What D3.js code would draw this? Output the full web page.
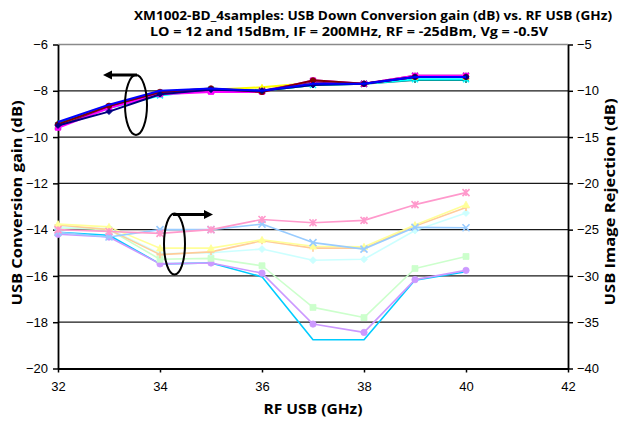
<!DOCTYPE html>
<html><head><meta charset="utf-8">
<script src="https://cdn.jsdelivr.net/npm/d3@7"></script>
<style>body{margin:0;background:#fff}svg{display:block}</style>
</head><body><svg id="c" width="621" height="421"></svg>
<script>
const freqs = [32,33,34,35,36,37,38,39,40];
const xTicks = [32,34,36,38,40,42];
const leftTicks = [-20,-18,-16,-14,-12,-10,-8,-6];
const rightTicks = [-40,-35,-30,-25,-20,-15,-10,-5];
const titleLines = ["XM1002-BD_4samples: USB Down Conversion gain (dB) vs. RF USB (GHz)",
                    "LO = 12 and 15dBm, IF = 200MHz, RF = -25dBm, Vg = -0.5V"];

// Conversion gain (left axis)
const gainNavy    = [-9.5,-8.9,-8.15,-7.95,-8.0,-7.75,-7.7,-7.4,-7.4];
const gainMagenta = [-9.6,-8.75,-8.15,-8.05,-8.05,-7.55,-7.7,-7.35,-7.35];
const gainYellow  = [-9.5,-8.7,-8.1,-7.95,-7.85,-7.65,-7.7,-7.4,-7.4];
const gainCyan    = [-9.5,-8.75,-8.2,-7.95,-8.0,-7.75,-7.7,-7.5,-7.5];
const gainPurple  = [-9.55,-8.7,-8.1,-8.0,-8.0,-7.6,-7.7,-7.35,-7.35];
const gainDarkRed = [-9.45,-8.65,-8.05,-7.9,-8.05,-7.55,-7.7,-7.4,-7.4];
const gainTeal    = [-9.4,-8.7,-8.1,-7.95,-8.0,-7.75,-7.7,-7.53,-7.53];
const gainBlue    = [-9.35,-8.6,-8.0,-7.9,-8.0,-7.7,-7.7,-7.4,-7.4];

// Image rejection (right axis)
const rejPink      = [-25.0,-25.2,-25.4,-25.0,-23.9,-24.25,-24.0,-22.3,-21.0];
const rejLightBlue = [-25.3,-25.8,-25.0,-25.0,-24.4,-26.4,-27.1,-24.75,-24.8];
const rejYellow    = [-24.4,-24.7,-27.0,-27.0,-26.1,-26.8,-26.85,-24.5,-22.3];
const rejOrange    = [-24.5,-25.0,-27.7,-27.4,-26.2,-27.0,-27.0,-24.6,-22.6];
const rejLightCyan = [-24.7,-24.9,-27.6,-27.5,-27.1,-28.3,-28.2,-25.1,-23.2];
const rejGreen     = [-24.8,-25.0,-28.2,-28.1,-28.9,-33.4,-34.5,-29.2,-27.9];
const rejLavender  = [-25.5,-25.8,-28.7,-28.6,-29.7,-35.2,-36.1,-30.4,-29.4];
const rejSkyBlue   = [-25.3,-25.6,-28.7,-28.6,-30.1,-36.9,-36.9,-30.45,-29.55];

const gainSeries = [
  {v:gainTeal,c:"#008080",m:"plus"},
  {v:gainCyan,c:"#00FFFF",m:"x"},
  {v:gainYellow,c:"#FFFF00",m:"triangle"},
  {v:gainPurple,c:"#800080",m:"star"},
  {v:gainMagenta,c:"#FF00FF",m:"square"},
  {v:gainDarkRed,c:"#800000",m:"circle"},
  {v:gainNavy,c:"#000080",m:"diamond"},
  {v:gainBlue,c:"#0000FF",m:"none"}
];
const rejSeries = [
  {v:rejSkyBlue,c:"#00CCFF",m:"none"},
  {v:rejLavender,c:"#CC99FF",m:"circle"},
  {v:rejGreen,c:"#CCFFCC",m:"square"},
  {v:rejLightCyan,c:"#CCFFFF",m:"diamond"},
  {v:rejOrange,c:"#FFCC99",m:"plus"},
  {v:rejYellow,c:"#FFFF99",m:"triangle"},
  {v:rejLightBlue,c:"#99CCFF",m:"x"},
  {v:rejPink,c:"#FF99CC",m:"star"}
];

const L=58, R=568, T=44.5, B=368.5;
const svg = d3.select("#c");
const x = d3.scaleLinear().domain([32,42]).range([L,R]);
const yL = d3.scaleLinear().domain([-20,-6]).range([B,T]);
const yR = d3.scaleLinear().domain([-40,-5]).range([B,T]);

// gridlines
svg.append("g").selectAll("line").data(leftTicks.filter(d=>d>-20 && d<-6)).join("line")
  .attr("x1",L).attr("x2",R).attr("y1",d=>yL(d)).attr("y2",d=>yL(d))
  .attr("stroke","#1a1a1a").attr("stroke-width",1.3);
svg.append("line").attr("x1",L).attr("x2",R).attr("y1",yL(-6)).attr("y2",yL(-6))
  .attr("stroke","#8a8a8a").attr("stroke-width",1.3);

const tickFont = "'Liberation Sans', Arial, sans-serif";
function styleAxis(g){
  g.selectAll("text").attr("font-family",tickFont).attr("font-size",13).attr("fill","#000");
  g.selectAll("path,line").attr("stroke","#000").attr("stroke-width",1.5);
}
svg.append("g").attr("transform",`translate(${L},0)`)
  .call(d3.axisLeft(yL).tickValues(leftTicks).tickSize(5).tickPadding(5).tickSizeOuter(0).tickFormat(d3.format("d")))
  .call(styleAxis);
svg.append("g").attr("transform",`translate(${R},0)`)
  .call(d3.axisRight(yR).tickValues(rightTicks).tickSize(5).tickPadding(4).tickSizeOuter(0).tickFormat(d3.format("d")))
  .call(styleAxis);
svg.append("g").attr("transform",`translate(0,${B})`)
  .call(d3.axisBottom(x).tickValues(xTicks).tickSize(4).tickPadding(9).tickSizeOuter(0).tickFormat(d3.format("d")))
  .call(styleAxis);
svg.selectAll(".domain").attr("stroke","#000").attr("stroke-width",1.8);

function markerPath(type,s){
  const h=s/2;
  switch(type){
    case "diamond": return `M0,${-h}L${h},0L0,${h}L${-h},0Z`;
    case "square": return `M${-h*0.85},${-h*0.85}h${s*0.85}v${s*0.85}h${-s*0.85}Z`;
    case "triangle": return `M0,${-h}L${h},${h*0.8}L${-h},${h*0.8}Z`;
    case "circle": return d3.symbol(d3.symbolCircle, s*s*0.65)();
    case "x": return `M${-h},${-h}L${h},${h}M${-h},${h}L${h},${-h}`;
    case "star": return `M${-h},${-h}L${h},${h}M${-h},${h}L${h},${-h}M0,${-h}L0,${h}`;
    case "plus": return `M${-h},0L${h},0M0,${-h}L0,${h}`;
  }
  return "";
}
const filled = t => ["diamond","square","triangle","circle"].includes(t);

function drawGroup(series, y, lw, ms){
  const line = d3.line().x((d,i)=>x(freqs[i])).y(d=>y(d));
  const g = svg.append("g");
  series.forEach(s=>{
    g.append("path").attr("d",line(s.v)).attr("fill","none").attr("stroke",s.c)
      .attr("stroke-width",lw).attr("stroke-linejoin","round");
    if(s.m!=="none"){
      g.selectAll(null).data(s.v).join("path")
        .attr("transform",(d,i)=>`translate(${x(freqs[i])},${y(d)})`)
        .attr("d",markerPath(s.m,ms))
        .attr("fill",filled(s.m)?s.c:"none")
        .attr("stroke",s.c).attr("stroke-width",filled(s.m)?0.8:1.6);
    }
  });
}
drawGroup(rejSeries, yR, 1.6, 7);
drawGroup(gainSeries, yL, 2, 6);

// annotation ellipses + arrows
function arrow(x1,y1,x2){
  const dir = Math.sign(x2-x1);
  svg.append("line").attr("x1",x1).attr("y1",y1).attr("x2",x2-dir*6).attr("y2",y1)
    .attr("stroke","#000").attr("stroke-width",3);
  svg.append("path").attr("d",`M${x2},${y1}L${x2-dir*9},${y1-4.5}L${x2-dir*9},${y1+4.5}Z`).attr("fill","#000");
}
svg.append("ellipse").attr("cx",136).attr("cy",105).attr("rx",11).attr("ry",30)
  .attr("fill","none").attr("stroke","#000").attr("stroke-width",2);
arrow(137,75,103);
svg.append("ellipse").attr("cx",174.5).attr("cy",244).attr("rx",10.5).attr("ry",30.5)
  .attr("fill","none").attr("stroke","#000").attr("stroke-width",2);
arrow(173,214.5,213);

// titles
const titleFont = "'Open Sans', 'DejaVu Sans', sans-serif";
svg.append("text").attr("x",373).attr("y",19.5).attr("text-anchor","middle")
  .attr("font-family",titleFont).attr("font-weight","bold").attr("font-size",13)
  .attr("textLength",478).attr("lengthAdjust","spacingAndGlyphs").text(titleLines[0]);
svg.append("text").attr("x",349).attr("y",36).attr("text-anchor","middle")
  .attr("font-family",titleFont).attr("font-weight","bold").attr("font-size",13)
  .attr("textLength",398).attr("lengthAdjust","spacingAndGlyphs").text(titleLines[1]);
svg.append("text").attr("x",313).attr("y",414).attr("text-anchor","middle")
  .attr("font-family",titleFont).attr("font-weight","bold").attr("font-size",14)
  .attr("textLength",99).attr("lengthAdjust","spacingAndGlyphs").text("RF USB (GHz)");
svg.append("text").attr("transform","translate(22,203) rotate(-90)").attr("text-anchor","middle")
  .attr("font-family",titleFont).attr("font-weight","bold").attr("font-size",14)
  .attr("textLength",205).attr("lengthAdjust","spacingAndGlyphs").text("USB Conversion gain (dB)");
svg.append("text").attr("transform","translate(615,202) rotate(-90)").attr("text-anchor","middle")
  .attr("font-family",titleFont).attr("font-weight","bold").attr("font-size",14)
  .attr("textLength",207).attr("lengthAdjust","spacingAndGlyphs").text("USB Image Rejection (dB)");
</script></body></html>
